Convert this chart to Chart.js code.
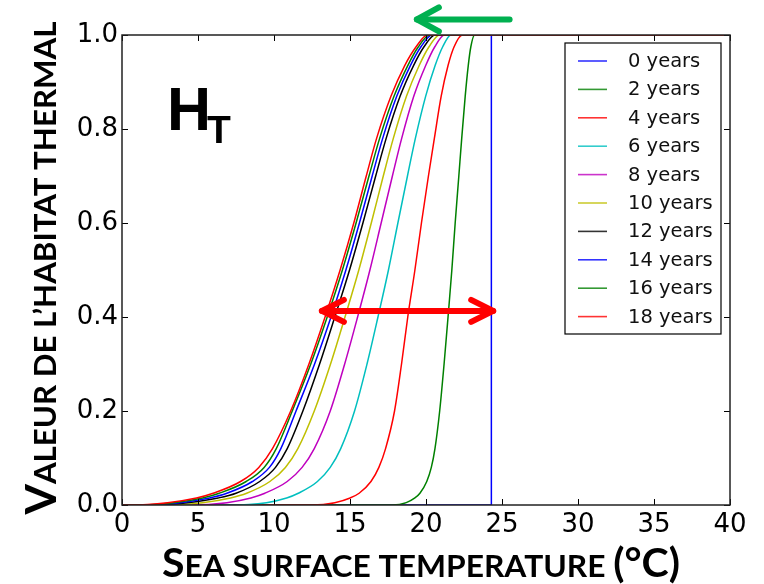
<!DOCTYPE html>
<html><head><meta charset="utf-8">
<script src="https://cdn.jsdelivr.net/npm/chart.js@4/dist/chart.umd.min.js"></script>
<style>html,body{margin:0;padding:0;background:#fff;}#wrap{width:764px;height:584px;}</style>
</head><body><div id="wrap"><canvas id="c" width="764" height="584"></canvas></div>
<script>
// ---- data ----
const seriesNames = ['0 years','2 years','4 years','6 years','8 years','10 years','12 years','14 years','16 years','18 years'];
const seriesColors = ['#0000ff','#008000','#ff0000','#00bfbf','#bf00bf','#bfbf00','#000000','#0000ff','#008000','#ff0000'];
// habitat value levels at which temperatures were read
const levels = [0, 0.005, 0.015, 0.025, 0.05, 0.08, 0.12, 0.2, 0.3, 0.4, 0.5, 0.6, 0.7, 0.78, 0.87, 0.935, 0.975, 1.0];
// the 0-year curve is a step
const stepLevels = [0, 1];
const temps0y  = [24.28, 24.3];
const temps2y  = [17.8, 18.7, 19.27, 19.6, 20.05, 20.35, 20.59, 20.9, 21.19, 21.45, 21.7, 21.92, 22.16, 22.35, 22.58, 22.78, 22.95, 23.2];
const temps4y  = [12.5, 14.0, 15.01, 15.6, 16.38, 16.9, 17.34, 17.93, 18.39, 18.8, 19.27, 19.7, 20.16, 20.55, 21.0, 21.45, 21.85, 22.4];
const temps6y  = [7.0, 9.5, 10.83, 11.6, 12.86, 13.7, 14.39, 15.3, 16.12, 16.84, 17.53, 18.15, 18.78, 19.3, 19.98, 20.6, 21.1, 21.65];
const temps8y  = [4.5, 6.9, 8.48, 9.4, 10.87, 11.85, 12.65, 13.7, 14.65, 15.5, 16.31, 17.05, 17.79, 18.4, 19.2, 19.98, 20.58, 21.22];
const temps10y = [3.0, 5.3, 7.14, 8.2, 9.73, 10.75, 11.57, 12.65, 13.72, 14.67, 15.58, 16.4, 17.19, 17.85, 18.72, 19.55, 20.2, 20.9];
const temps12y = [2.0, 4.3, 6.33, 7.5, 9.06, 10.1, 10.87, 11.9, 13.0, 14.0, 14.97, 15.85, 16.69, 17.38, 18.3, 19.18, 19.87, 20.6];
const temps14y = [1.5, 3.8, 5.76, 6.9, 8.58, 9.7, 10.45, 11.45, 12.67, 13.75, 14.73, 15.62, 16.46, 17.15, 18.08, 18.97, 19.67, 20.4];
const temps16y = [1.0, 3.4, 5.3, 6.4, 8.17, 9.35, 10.15, 11.2, 12.42, 13.5, 14.5, 15.4, 16.25, 16.95, 17.9, 18.8, 19.5, 20.25];
const temps18y = [0.5, 3.0, 4.9, 6.0, 7.8, 9.0, 9.9, 11.1, 12.3, 13.36, 14.35, 15.25, 16.07, 16.75, 17.7, 18.6, 19.35, 20.1];
const allTemps = [temps0y, temps2y, temps4y, temps6y, temps8y, temps10y, temps12y, temps14y, temps16y, temps18y];
const xTicks = [0, 5, 10, 15, 20, 25, 30, 35, 40];
const yTicks = [0.0, 0.2, 0.4, 0.6, 0.8, 1.0];
const xRange = [0, 40];
const yRange = [0, 1];
// annotation arrows in data units: [tailX, tipX, y]
const arrowGreen = [25.5, 19.4, 1.033];
const arrowRed = [13.15, 24.42, 0.413];

function buildPoints(temps, i) {
  const lv = i === 0 ? stepLevels : levels;
  const pts = [{x: xRange[0], y: 0}];
  temps.forEach((t, k) => pts.push({x: t, y: lv[k]}));
  pts.push({x: xRange[1], y: 1});
  return pts;
}

const datasets = allTemps.map((temps, i) => ({
  label: seriesNames[i],
  data: buildPoints(temps, i),
  borderColor: seriesColors[i],
  backgroundColor: seriesColors[i],
  borderWidth: 1.5,
  pointRadius: 0,
  fill: false,
  cubicInterpolationMode: i === 0 ? 'default' : 'monotone',
  tension: i === 0 ? 0 : 0.4,
  order: 9 - i
}));

function drawSmallCaps(ctx, parts, family, bigSize, smallSize, targetWidth) {
  let total = 0;
  const widths = parts.map(p => {
    ctx.font = 'bold ' + (p.big ? bigSize : smallSize) + 'px ' + family;
    const w = ctx.measureText(p.t).width;
    total += w;
    return w;
  });
  const sx = targetWidth / total;
  ctx.save();
  ctx.scale(sx, 1);
  let x = -total / 2;
  ctx.textBaseline = 'alphabetic';
  ctx.textAlign = 'left';
  parts.forEach((p, k) => {
    ctx.font = 'bold ' + (p.big ? bigSize : smallSize) + 'px ' + family;
    ctx.fillText(p.t, x, 0);
    x += widths[k];
  });
  ctx.restore();
}

function drawArrow(ctx, x1, y1, x2, y2, color, lw, head, half, both) {
  ctx.save();
  ctx.strokeStyle = color;
  ctx.lineWidth = lw;
  ctx.lineCap = 'round';
  ctx.lineJoin = 'round';
  ctx.beginPath();
  ctx.moveTo(x1, y1);
  ctx.lineTo(x2, y2);
  ctx.stroke();
  const heads = both ? [[x2, y2, x1, y1], [x1, y1, x2, y2]] : [[x2, y2, x1, y1]];
  heads.forEach(([tx, ty, fx, fy]) => {
    const ang = Math.atan2(ty - fy, tx - fx);
    const c = Math.cos(ang), s = Math.sin(ang);
    ctx.beginPath();
    ctx.moveTo(tx - head * c - half * s, ty - head * s + half * c);
    ctx.lineTo(tx, ty);
    ctx.lineTo(tx - head * c + half * s, ty - head * s - half * c);
    ctx.stroke();
  });
  ctx.restore();
}

const decor = {
  id: 'decor',
  afterDraw(chart) {
    const ctx = chart.ctx;
    const a = chart.chartArea;
    const xs = chart.scales.x, ys = chart.scales.y;
    ctx.save();
    // inward ticks on all four sides
    ctx.strokeStyle = '#000';
    ctx.lineWidth = 1;
    const tl = 6;
    xs.ticks.forEach(t => {
      const px = Math.round(xs.getPixelForValue(t.value)) + 0.5;
      ctx.beginPath();
      ctx.moveTo(px, a.bottom); ctx.lineTo(px, a.bottom - tl);
      ctx.moveTo(px, a.top); ctx.lineTo(px, a.top + tl);
      ctx.stroke();
    });
    ys.ticks.forEach(t => {
      const py = Math.round(ys.getPixelForValue(t.value)) + 0.5;
      ctx.beginPath();
      ctx.moveTo(a.left, py); ctx.lineTo(a.left + tl, py);
      ctx.moveTo(a.right, py); ctx.lineTo(a.right - tl, py);
      ctx.stroke();
    });
    // frame
    ctx.strokeStyle = '#222';
    ctx.lineWidth = 1.5;
    ctx.strokeRect(a.left, a.top, a.right - a.left, a.bottom - a.top);

    // legend
    const lw = 156, lh = 291;
    const lx = a.right - 9 - lw, ly = a.top + 8;
    ctx.fillStyle = '#fff';
    ctx.fillRect(lx, ly, lw, lh);
    ctx.strokeStyle = '#000';
    ctx.lineWidth = 1.2;
    ctx.strokeRect(lx, ly, lw, lh);
    ctx.font = '19.5px "DejaVu Sans"';
    ctx.textBaseline = 'middle';
    ctx.textAlign = 'left';
    chart.data.datasets.forEach((d, i) => {
      const cy = ly + 18 + i * 28.4;
      ctx.strokeStyle = d.borderColor;
      ctx.globalAlpha = 0.8;
      ctx.lineWidth = 1.6;
      ctx.beginPath();
      ctx.moveTo(lx + 13, cy); ctx.lineTo(lx + 42, cy);
      ctx.stroke();
      ctx.globalAlpha = 1;
      ctx.fillStyle = '#111';
      ctx.fillText(d.label, lx + 63, cy + 1);
    });

    // H_T label
    ctx.fillStyle = '#000';
    ctx.textBaseline = 'alphabetic';
    ctx.textAlign = 'left';
    ctx.font = 'bold 61px "Liberation Sans"';
    ctx.fillText('H', 167, 130);
    ctx.font = 'bold 39px "Liberation Sans"';
    ctx.fillText('T', 207, 143);

    // axis titles (small caps)
    ctx.fillStyle = '#000';
    ctx.save();
    ctx.translate(421, 577);
    drawSmallCaps(ctx, [{t: 'S', big: true}, {t: 'EA SURFACE TEMPERATURE ', big: false}, {t: '(°C)', big: true}], 'Lato', 40, 31, 518);
    ctx.restore();
    ctx.save();
    ctx.translate(56, 268);
    ctx.rotate(-Math.PI / 2);
    drawSmallCaps(ctx, [{t: 'V', big: true}, {t: 'ALEUR DE L\u2019HABITAT THERMAL', big: false}], 'Lato', 42, 30, 493);
    ctx.restore();

    // arrows
    drawArrow(ctx, xs.getPixelForValue(arrowGreen[0]), ys.getPixelForValue(arrowGreen[2]),
      xs.getPixelForValue(arrowGreen[1]), ys.getPixelForValue(arrowGreen[2]), '#00b050', 6, 22, 12, false);
    drawArrow(ctx, xs.getPixelForValue(arrowRed[0]), ys.getPixelForValue(arrowRed[2]),
      xs.getPixelForValue(arrowRed[1]), ys.getPixelForValue(arrowRed[2]), '#ff0000', 6, 22, 11, true);
    ctx.restore();
  }
};

new Chart(document.getElementById('c'), {
  type: 'line',
  data: {datasets},
  options: {
    responsive: false,
    animation: false,
    devicePixelRatio: 1,
    layout: {padding: {top: 35, right: 34, left: 0, bottom: 0}},
    plugins: {legend: {display: false}, tooltip: {enabled: false}},
    scales: {
      x: {
        type: 'linear', min: xRange[0], max: xRange[1],
        afterBuildTicks: s => { s.ticks = xTicks.map(v => ({value: v})); },
        ticks: {autoSkip: false, maxRotation: 0, padding: 5, color: '#000',
          font: {family: 'DejaVu Sans', size: 26}, callback: v => String(v)},
        grid: {display: false, drawTicks: false},
        border: {display: false},
        afterFit: s => { s.height = 79; }
      },
      y: {
        type: 'linear', min: yRange[0], max: yRange[1],
        afterBuildTicks: s => { s.ticks = yTicks.map(v => ({value: v})); },
        ticks: {autoSkip: false, padding: 4, color: '#000',
          font: {family: 'DejaVu Sans', size: 26}, callback: v => Number(v).toFixed(1)},
        grid: {display: false, drawTicks: false},
        border: {display: false},
        afterFit: s => { s.width = 122; }
      }
    }
  },
  plugins: [decor]
});
</script>
</body></html>
